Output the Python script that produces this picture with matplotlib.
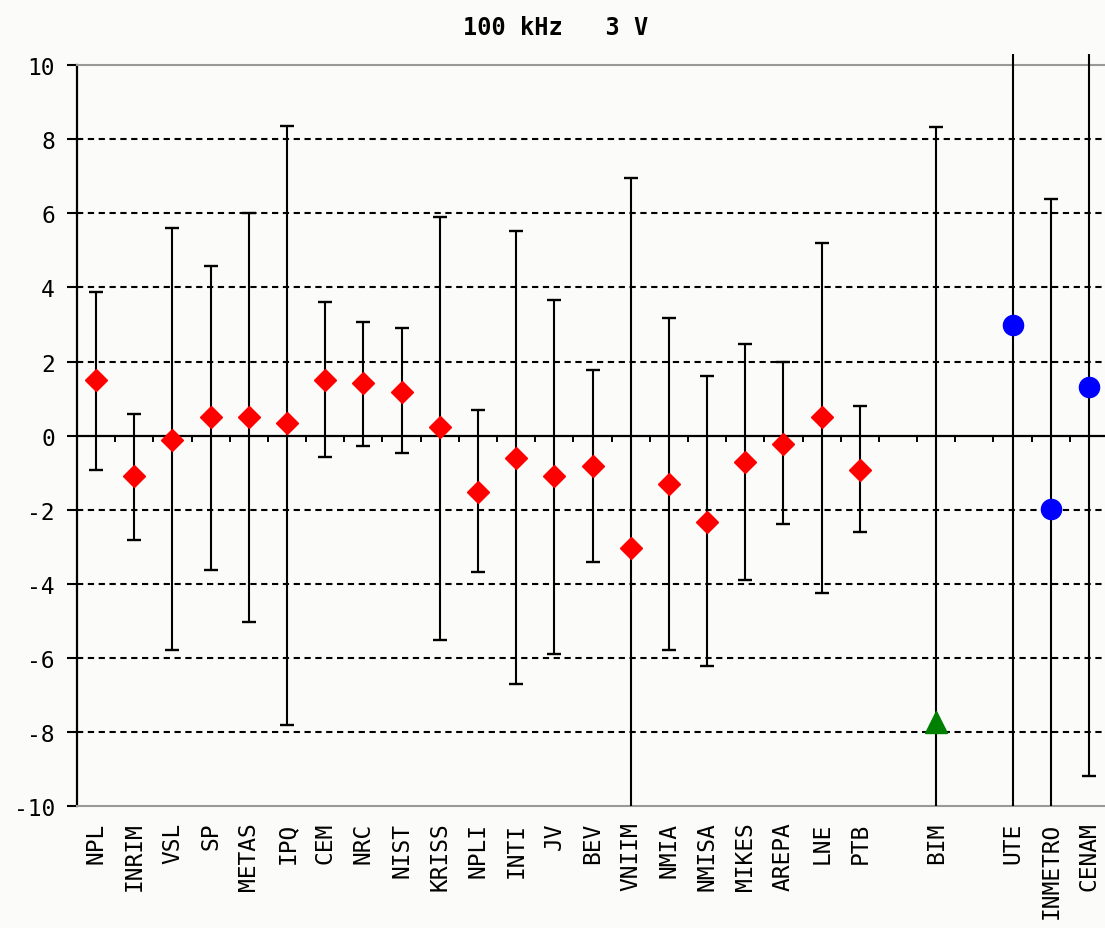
import matplotlib.pyplot as plt

plt.rcParams['axes.unicode_minus'] = False
plt.rcParams['font.family'] = 'DejaVu Sans Mono'

# Labs in the order they appear on the x axis
labs = ['NPL', 'INRIM', 'VSL', 'SP', 'METAS', 'IPQ', 'CEM', 'NRC', 'NIST',
        'KRISS', 'NPLI', 'INTI', 'JV', 'BEV', 'VNIIM', 'NMIA', 'NMISA',
        'MIKES', 'AREPA', 'LNE', 'PTB', 'BIM', 'UTE', 'INMETRO', 'CENAM']
slots = list(range(21)) + [22, 24, 25, 26]
groups = ['lab'] * 21 + ['bim'] + ['link'] * 3

# Deviation and visible ends of the uncertainty bars
vals = [1.51, -1.08, -0.11, 0.50, 0.50, 0.34, 1.51, 1.41, 1.19,
        0.23, -1.51, -0.60, -1.08, -0.81, -3.03, -1.29, -2.33,
        -0.70, -0.22, 0.50, -0.92, -7.71, 2.99, -1.98, 1.32]
lows = [-0.92, -2.81, -5.79, -3.62, -5.03, -7.80, -0.58, -0.29, -0.47,
        -5.51, -3.68, -6.70, -5.89, -3.41, -10.0, -5.78, -6.21,
        -3.89, -2.38, -4.23, -2.59, -10.0, -10.0, -10.0, -9.19]
highs = [3.88, 0.59, 5.61, 4.59, 6.00, 8.36, 3.61, 3.08, 2.91,
         5.89, 0.70, 5.51, 3.67, 1.78, 6.96, 3.18, 1.62,
         2.48, 2.00, 5.19, 0.81, 8.33, 10.3, 6.38, 10.3]

styles = {
	'lab': dict(marker='D', color='#ff0000', ms=11.5),
	'bim': dict(marker='^', color='#008000', ms=15.5),
	'link': dict(marker='o', color='#0000ff', ms=14.5),
}

bg = '#fbfcfa'
fig = plt.figure(figsize=(11.05, 9.29), dpi=100, facecolor=bg)
ax = fig.add_axes([77 / 1105, 0.1309, 1 - 77 / 1105, 0.798])
ax.set_facecolor(bg)
ax.set_xlim(-0.5, 26.42)
ax.set_ylim(-10, 10)

# dashed grid
for yv in [-8, -6, -4, -2, 2, 4, 6, 8]:
	ax.axhline(yv, color='black', lw=1.5, ls=(0, (3.0, 2.2)), zorder=1)
ax.axhline(0, color='black', lw=1.6, zorder=2)
ax.vlines([s + 0.5 for s in range(27)], -0.18, 0, color='black', lw=1.4, zorder=2)

# uncertainty bars
ax.vlines(slots, lows, highs, color='black', lw=1.5, zorder=3, clip_on=False)
for s, lo, hi in zip(slots, lows, highs):
	if lo > -10:
		ax.plot(s, lo, marker='_', ms=10, mew=1.7, color='black', zorder=3)
	if hi < 10:
		ax.plot(s, hi, marker='_', ms=10, mew=1.7, color='black', zorder=3)

# values
for g, st in styles.items():
	xs = [s for s, gg in zip(slots, groups) if gg == g]
	ys = [v for v, gg in zip(vals, groups) if gg == g]
	ax.plot(xs, ys, ls='none', marker=st['marker'], color=st['color'],
		ms=st['ms'], mec=st['color'], zorder=5)

ax.set_yticks(range(-10, 11, 2))
ax.tick_params(axis='y', length=7, width=1.5, pad=9, labelsize=16.5)
ax.set_xticks(slots)
ax.set_xticklabels(labs, rotation=90, va='top', ha='center')
ax.tick_params(axis='x', length=0, pad=11, labelsize=16.5)

ax.spines['left'].set_color('black')
ax.spines['left'].set_linewidth(1.6)
ax.spines['right'].set_visible(False)
for side in ['top', 'bottom']:
	ax.spines[side].set_color('#999999')
	ax.spines[side].set_linewidth(1.5)

fig.text(0.503, 0.970, '100 kHz   3 V', ha='center', va='center',
	fontsize=17, fontweight='bold')

fig.savefig('out.png', dpi=100, facecolor=bg)
